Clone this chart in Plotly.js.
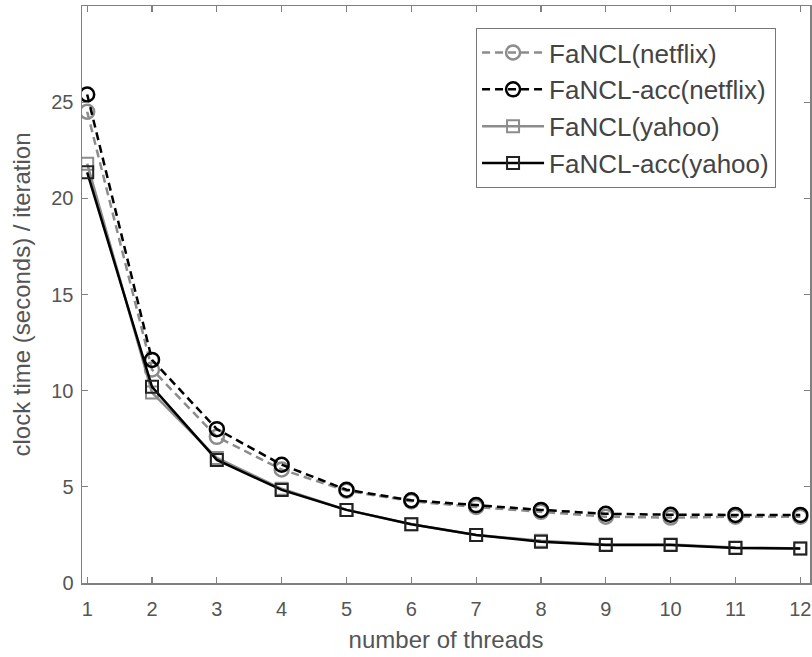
<!DOCTYPE html>
<html>
<head>
<meta charset="utf-8">
<script src="https://cdn.plot.ly/plotly-3.0.1.min.js"></script>
<style>html,body{margin:0;padding:0;background:#fff;}#chart{width:812px;height:657px;}</style>
</head>
<body>
<div id="chart"></div>
<script>
var threads = [1,2,3,4,5,6,7,8,9,10,11,12];
var fanclNetflix    = [24.5, 11.1, 7.6, 5.9, 4.8, 4.25, 3.95, 3.7, 3.45, 3.4, 3.45, 3.45];
var fanclAccNetflix = [25.4, 11.6, 8.0, 6.15, 4.85, 4.3, 4.05, 3.8, 3.6, 3.55, 3.54, 3.54];
var fanclYahoo      = [21.8, 9.9, 6.5, 4.9, 3.8, 3.05, 2.5, 2.2, 2.0, 2.0, 1.85, 1.8];
var fanclAccYahoo   = [21.35, 10.2, 6.4, 4.84, 3.8, 3.05, 2.5, 2.15, 1.98, 1.98, 1.82, 1.8];
var seriesNames = ['FaNCL(netflix)', 'FaNCL-acc(netflix)', 'FaNCL(yahoo)', 'FaNCL-acc(yahoo)'];
var yTicks = [0,5,10,15,20,25,30];
var yTickText = ['0','5','10','15','20','25',''];

var gray = '#8c8c8c';
var font = 'Liberation Sans, Arial, Helvetica, sans-serif';

var traces = [
  {x: threads, y: fanclNetflix, name: seriesNames[0], mode: 'lines+markers',
   line: {color: gray, width: 2.5, dash: '8px,5px'},
   marker: {symbol: 'circle-open', size: 14, color: gray, line: {width: 2.5, color: gray}}},
  {x: threads, y: fanclAccNetflix, name: seriesNames[1], mode: 'lines+markers',
   line: {color: '#000', width: 2.5, dash: '8px,5px'},
   marker: {symbol: 'circle-open', size: 14, color: '#000', line: {width: 2.5, color: '#000'}}},
  {x: threads, y: fanclYahoo, name: seriesNames[2], mode: 'lines+markers',
   line: {color: gray, width: 2.5},
   marker: {symbol: 'square-open', size: 12, color: gray, line: {width: 2, color: gray}}},
  {x: threads, y: fanclAccYahoo, name: seriesNames[3], mode: 'lines+markers',
   line: {color: '#000', width: 2.5},
   marker: {symbol: 'square-open', size: 12, color: '#222', line: {width: 2, color: '#222'}}}
];

var axisCommon = {
  showline: true, linecolor: '#808080', linewidth: 1.5, mirror: 'ticks',
  ticks: 'inside', ticklen: 6, tickcolor: '#808080', tickwidth: 1.2,
  showgrid: false, zeroline: false,
  tickfont: {family: font, size: 20, color: '#555'}
};

var layout = {
  width: 812, height: 657,
  margin: {l: 82, r: 2, t: 6, b: 74},
  paper_bgcolor: '#fff', plot_bgcolor: '#fff',
  font: {family: font, color: '#333'},
  xaxis: Object.assign({}, axisCommon, {
    range: [0.92, 12.15], tickvals: threads, ticklabelstandoff: 7,
    title: {text: 'number of threads', font: {family: font, size: 24, color: '#555'}, standoff: 12}
  }),
  yaxis: Object.assign({}, axisCommon, {
    range: [0, 30], tickvals: yTicks, ticktext: yTickText, ticklabelstandoff: 3,
    title: {text: 'clock time (seconds) / iteration', font: {family: font, size: 24, color: '#555'}, standoff: 14}
  }),
  legend: {
    x: 0.541, y: 0.962, xanchor: 'left', yanchor: 'top',
    bgcolor: '#fff', bordercolor: '#777', borderwidth: 1.2,
    font: {family: font, size: 26, color: '#444'},
    itemwidth: 62
  },
  showlegend: true
};

Plotly.newPlot('chart', traces, layout, {displayModeBar: false, staticPlot: true});
</script>
</body>
</html>
